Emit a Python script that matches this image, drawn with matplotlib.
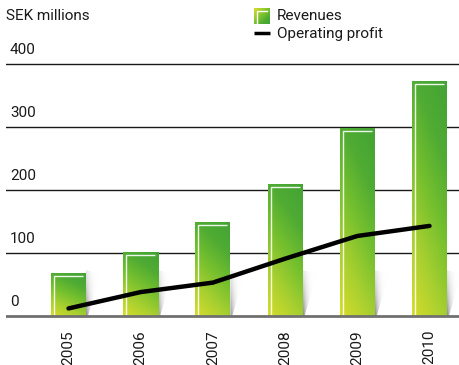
import numpy as np
import matplotlib
matplotlib.use("Agg")
import matplotlib.pyplot as plt
from matplotlib.colors import LinearSegmentedColormap
from matplotlib.patches import Polygon, Rectangle

plt.rcParams['font.family'] = ['Roboto', 'DejaVu Sans']

years = ["2005", "2006", "2007", "2008", "2009", "2010"]
revenues = [68, 101, 149, 209, 299, 373]
operating_profit = [12, 38, 53, 91, 127, 143]
y_ticks = [0, 100, 200, 300, 400]

W, H = 460, 365
fig = plt.figure(figsize=(W / 100, H / 100), dpi=100)

# axes placement in pixels
ax_left, ax_right = 6, 460
ax_top, ax_bottom = 60, 322
ax = fig.add_axes([ax_left / W, 1 - ax_bottom / H,
                   (ax_right - ax_left) / W, (ax_bottom - ax_top) / H])

px_per_x = 72.2
px_per_y = 0.63
x0_px = 68.5
xlim = ((ax_left - x0_px) / px_per_x, (ax_right - x0_px) / px_per_x)
ylim = (-(ax_bottom - 316) / px_per_y, (316 - ax_top) / px_per_y)
ax.set_xlim(*xlim)
ax.set_ylim(*ylim)
ax.axis('off')

dx = 1 / px_per_x   # one pixel in x data units
dy = 1 / px_per_y   # one pixel in y data units
FS = 11

# gridlines and value labels
for t in y_ticks[1:]:
    ax.axhline(t, color='#1a1a1a', lw=1.0, zorder=1)
for t in y_ticks:
    ax.text(xlim[0] + 4 * dx, t + 14 * dy, str(t), fontsize=FS,
            va='center', ha='left', color='#1a1a1a')
ax.axhline(0, color='#707070', lw=2.0, zorder=6)

cmap = LinearSegmentedColormap.from_list(
    "rev", ["#d6dc2a", "#a9d030", "#76c02e", "#4fab33", "#43a334"])
shadow_cmap = LinearSegmentedColormap.from_list(
    "shd", [(1, 1, 1, 0), (0.45, 0.45, 0.45, 0.85)])

bw = 35 * dx
xs = np.arange(len(years))
for i, v in enumerate(revenues):
    x = xs[i]
    L, R = x - bw / 2, x + bw / 2

    # soft shadow wedge to the right of the bar
    sh = Polygon([(R, 0), (R, 46 * dy), (R + 14 * dx, 42 * dy), (R + 2 * dx, 0)],
                 closed=True, facecolor='none', edgecolor='none')
    ax.add_patch(sh)
    gy = np.linspace(0, 1, 60)[:, None]
    gx = np.linspace(0, 1, 30)[None, :]
    shade = (1 - gx) ** 1.6 * (1 - 0.55 * gy)
    im = ax.imshow(shade, cmap=shadow_cmap, origin='lower', aspect='auto',
                   extent=[R, R + 14 * dx, 0, 46 * dy], zorder=2,
                   interpolation='bilinear', vmin=0, vmax=1)
    im.set_clip_path(sh)

    # gradient filled bar
    u = np.linspace(0, 1, 40)[None, :]
    w = np.linspace(0, 1, 200)[:, None]
    grad = 0.72 * w + 0.28 * u
    rect = Rectangle((L, 0), bw, v, facecolor='none', edgecolor='none')
    ax.add_patch(rect)
    im = ax.imshow(grad, cmap=cmap, origin='lower', aspect='auto',
                   extent=[L, R, 0, v], zorder=3, interpolation='bilinear',
                   vmin=0, vmax=1)
    im.set_clip_path(rect)

    # inner highlight along left and top edges
    ax.plot([L + 3 * dx, L + 3 * dx, R - 3 * dx],
            [1 * dy, v - 3 * dy, v - 3 * dy],
            color='white', lw=1.0, alpha=0.9, zorder=4,
            solid_capstyle='butt', solid_joinstyle='miter')

    ax.text(x, -14 * dy, years[i], rotation=90, ha='center', va='top',
            fontsize=FS, color='#1a1a1a')

ax.plot(xs, operating_profit, color='black', lw=3.2, zorder=5,
        solid_capstyle='round', solid_joinstyle='round')

# title and legend
fig.text(6 / W, 1 - 16 / H, "SEK millions", fontsize=FS, va='center',
         ha='left', color='#1a1a1a')

lax = fig.add_axes([0, 0, 1, 1], zorder=10)
lax.axis('off')
lax.patch.set_alpha(0)
sq = Rectangle((254, 8), 16, 16, facecolor='none', edgecolor='none')
lax.add_patch(sq)
gu = np.linspace(0, 1, 20)[None, :]
gv = np.linspace(1, 0, 20)[:, None]
im = lax.imshow(0.5 * gu + 0.5 * (1 - gv), cmap=cmap, origin='upper',
                extent=[254, 270, 24, 8], aspect='auto', vmin=0, vmax=1,
                interpolation='bilinear')
im.set_clip_path(sq)
lax.plot([257, 257, 267], [23, 11, 11], color='white', lw=1.0,
         solid_joinstyle='miter')
lax.plot([254, 270], [33, 33], color='black', lw=2.5, solid_capstyle='butt')
lax.set_xlim(0, W)
lax.set_ylim(H, 0)
lax.text(277, 16, "Revenues", fontsize=FS, va='center', ha='left',
         color='#1a1a1a')
lax.text(277, 34, "Operating profit", fontsize=FS, va='center', ha='left',
         color='#1a1a1a')

fig.savefig("out.png", dpi=100)
